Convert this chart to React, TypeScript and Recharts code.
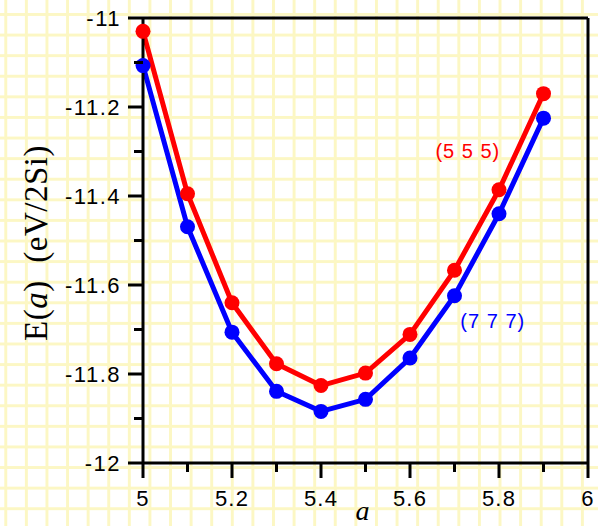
import React from 'react';
import { LineChart, Line, XAxis, YAxis, ReferenceLine, ReferenceDot } from 'recharts';

const latticeA = [5.0, 5.1, 5.2, 5.3, 5.4, 5.5, 5.6, 5.7, 5.8, 5.9];
const energy555 = [-11.030, -11.395, -11.640, -11.777, -11.826, -11.798, -11.711, -11.567, -11.386, -11.170];
const energy777 = [-11.107, -11.469, -11.706, -11.839, -11.884, -11.857, -11.764, -11.624, -11.440, -11.225];

const xMajorTicks = [5, 5.2, 5.4, 5.6, 5.8, 6];
const xMinorTicks = [5.1, 5.3, 5.5, 5.7, 5.9];
const yMajorTicks = [-12, -11.8, -11.6, -11.4, -11.2, -11];
const yMinorTicks = [-11.9, -11.7, -11.5, -11.3, -11.1];

const series555Label = '(5 5 5)';
const series777Label = '(7 7 7)';

const data = latticeA.map((a, i) => ({ a, e555: energy555[i], e777: energy777[i] }));

const xTicks = [...xMajorTicks, ...xMinorTicks].sort((p, q) => p - q);
const yTicks = [...yMajorTicks, ...yMinorTicks].sort((p, q) => p - q);

const isMajorX = (v: number) => xMajorTicks.some((t) => Math.abs(t - v) < 1e-9);
const isMajorY = (v: number) => yMajorTicks.some((t) => Math.abs(t - v) < 1e-9);

const tickFont = "'Liberation Sans', Arial, sans-serif";
const serifFont = "'Liberation Serif', 'Times New Roman', serif";

const XTick = (props: any) => {
  const { x, y, payload } = props;
  const major = isMajorX(payload.value);
  return (
    <g>
      <line x1={x} x2={x} y1={y} y2={y + (major ? 15 : 9)} stroke="#000" strokeWidth={3} />
      {major && (
        <text x={x} y={y + 43} textAnchor="middle" fontFamily={tickFont} fontSize={22} letterSpacing={1.2} fill="#000">
          {String(payload.value)}
        </text>
      )}
    </g>
  );
};

const YTick = (props: any) => {
  const { x, y, payload } = props;
  const major = isMajorY(payload.value);
  return (
    <g>
      <line x1={x - (major ? 15 : 9)} x2={x} y1={y} y2={y} stroke="#000" strokeWidth={3} />
      {major && (
        <text x={x - 22} y={y + 8} textAnchor="end" fontFamily={tickFont} fontSize={22} letterSpacing={1.5} fill="#000">
          {String(payload.value)}
        </text>
      )}
    </g>
  );
};

const YLabel = () => (
  <text
    x={47}
    y={243}
    transform="rotate(-90 47 243)"
    textAnchor="middle"
    fontFamily={serifFont}
    fontSize={33}
    letterSpacing={0.5}
    fill="#000"
    style={{ whiteSpace: 'pre' }}
  >
    E(<tspan fontStyle="italic">a</tspan>)  (eV/2Si)
  </text>
);

const XLabel = (props: any) => {
  const vb = props.viewBox || {};
  const cx = (vb.x ?? 143) + (vb.width ?? 445) / 2;
  return (
    <text x={cx - 3} y={520} textAnchor="middle" fontFamily={serifFont} fontStyle="italic" fontSize={28} fill="#000">
      a
    </text>
  );
};

const makeAnno = (text: string, color: string) => (props: any) => {
  const vb = props.viewBox || {};
  const cx = (vb.x ?? 0) + (vb.width ?? 0) / 2;
  const cy = (vb.y ?? 0) + (vb.height ?? 0) / 2;
  return (
    <text x={cx} y={cy + 7} textAnchor="middle" fontFamily={tickFont} fontSize={20} letterSpacing={1} fill={color} style={{ whiteSpace: 'pre' }}>
      {text}
    </text>
  );
};

export default function App() {
  return (
    <div
      style={{
        position: 'absolute',
        left: 0,
        top: 0,
        width: 598,
        height: 526,
        backgroundColor: '#ffffff',
        backgroundImage:
          'linear-gradient(to right, #fcf7c4 3px, transparent 3px), linear-gradient(to bottom, #fcf7c4 3px, transparent 3px)',
        backgroundSize: '20.6px 20.6px',
        backgroundPosition: '4.3px 13px',
        overflow: 'hidden',
      }}
    >
      <LineChart width={598} height={526} data={data} margin={{ top: 18, right: 10, bottom: 0, left: 0 }}>
        <XAxis
          dataKey="a"
          type="number"
          domain={[5, 6]}
          ticks={xTicks}
          interval={0}
          height={63}
          tickSize={0}
          tickMargin={0}
          tickLine={false}
          tick={<XTick />}
          axisLine={{ stroke: '#000', strokeWidth: 3 }}
          label={<XLabel />}
          allowDecimals
        />
        <YAxis
          type="number"
          domain={[-12, -11]}
          ticks={yTicks}
          interval={0}
          width={143}
          tickSize={0}
          tickMargin={0}
          tickLine={false}
          tick={<YTick />}
          axisLine={{ stroke: '#000', strokeWidth: 3 }}
          label={<YLabel />}
          allowDataOverflow
        />
        <ReferenceLine y={-11} stroke="#000" strokeWidth={3} />
        <ReferenceLine x={6} stroke="#000" strokeWidth={3} />
        <Line
          dataKey="e777"
          stroke="#0000ff"
          strokeWidth={5}
          dot={{ r: 7.5, fill: '#0000ff', stroke: 'none' }}
          isAnimationActive={false}
        />
        <Line
          dataKey="e555"
          stroke="#ff0000"
          strokeWidth={5}
          dot={{ r: 7.5, fill: '#ff0000', stroke: 'none' }}
          isAnimationActive={false}
        />
        <ReferenceDot x={5.73} y={-11.298} r={0} stroke="none" label={makeAnno(series555Label, '#ff0000')} />
        <ReferenceDot x={5.786} y={-11.68} r={0} stroke="none" label={makeAnno(series777Label, '#0000ff')} />
      </LineChart>
    </div>
  );
}
